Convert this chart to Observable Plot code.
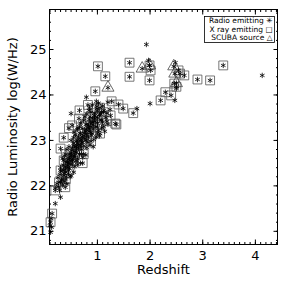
<!DOCTYPE html>
<html>
<head>
<meta charset="utf-8">
<script src="https://cdn.jsdelivr.net/npm/d3@7"></script>
<script src="https://cdn.jsdelivr.net/npm/@observablehq/plot@0.6"></script>
<style>
  html, body { margin: 0; padding: 0; background: white; }
</style>
</head>
<body>
<div id="chart"></div>
<script>
// Radio-emitting sources only (asterisk)
const radioOnly = [
  [1.93,25.11],[0.79,23.95],[2.00,23.81],[2.47,23.88],[1.75,23.70],[0.50,23.59],[0.85,23.72],[0.99,23.75],
  [1.97,24.76],[2.48,24.71],[2.50,24.14],[4.13,24.43],[0.63,23.27],
  [0.30,21.75],[0.20,21.61],[0.13,21.09],[0.11,20.98],[0.12,21.28],[0.10,21.12],
  [0.20,21.95],[0.23,22.05],[0.26,21.98],[0.30,22.08],[0.34,22.02],[0.38,22.10],[0.42,22.04],[0.28,21.90],
  [0.25,22.18],[0.29,22.25],[0.33,22.15],[0.37,22.28],[0.41,22.20],[0.45,22.27],[0.50,22.22],[0.55,22.30],[0.31,22.32],
  [0.30,22.40],[0.35,22.46],[0.39,22.36],[0.43,22.44],[0.47,22.38],[0.52,22.48],[0.57,22.42],[0.62,22.47],[0.68,22.50],[0.40,22.52],
  [0.34,22.60],[0.38,22.66],[0.44,22.58],[0.48,22.64],[0.53,22.56],[0.57,22.68],[0.62,22.60],[0.66,22.70],[0.72,22.63],[0.78,22.68],[0.50,22.72],
  [0.42,22.80],[0.46,22.86],[0.51,22.78],[0.56,22.88],[0.60,22.82],[0.65,22.90],[0.70,22.80],[0.74,22.88],[0.80,22.84],[0.86,22.90],[0.92,22.86],[0.55,22.94],
  [0.50,23.00],[0.55,23.06],[0.60,22.98],[0.64,23.08],[0.69,23.02],[0.74,23.10],[0.78,23.00],[0.83,23.06],[0.88,23.12],[0.93,23.02],[0.98,23.08],[1.04,23.10],
  [0.56,23.18],[0.62,23.24],[0.67,23.16],[0.72,23.26],[0.77,23.20],[0.82,23.28],[0.87,23.18],[0.92,23.25],[0.97,23.30],[1.02,23.22],[1.08,23.28],[1.14,23.20],
  [0.68,23.38],[0.74,23.44],[0.80,23.36],[0.85,23.46],[0.90,23.40],[0.95,23.48],[1.00,23.38],[1.05,23.45],[1.10,23.40],[1.16,23.50],[1.20,23.36],
  [0.80,23.58],[0.88,23.62],[0.94,23.55],[1.00,23.65],[1.06,23.58],[1.12,23.66],[1.18,23.60],[1.24,23.68],
  [0.90,23.78],[1.02,23.82],[1.10,23.76],[1.20,23.84],
  [0.32,22.12],[0.36,22.22],[0.40,22.30],[0.44,22.40],[0.48,22.48],[0.52,22.58],[0.56,22.66],[0.60,22.74],[0.64,22.82],[0.68,22.88],
  [0.72,22.96],[0.76,23.04],[0.80,23.14],[0.84,23.20],[0.88,23.30],[0.92,23.34],[0.96,23.42],[1.00,23.50],[1.04,23.56],[1.08,23.62],
  [0.35,22.35],[0.39,22.42],[0.43,22.52],[0.47,22.60],[0.51,22.68],[0.55,22.76],[0.59,22.86],[0.63,22.94],[0.67,23.00],[0.71,23.08],
  [0.75,23.16],[0.79,23.24],[0.83,23.32],[0.87,23.38],[0.91,23.48],[0.95,23.54],
  [0.46,22.70],[0.53,22.84],[0.58,23.12],[0.66,23.30],[0.76,23.52],[0.84,23.66],[0.98,23.86],[0.48,22.20],[0.60,22.55],[0.70,22.70],
  [0.82,22.96],[0.90,23.15],[1.00,23.16],[1.12,23.30]
];
// X-ray emitting sources (square, radio asterisk inside)
const xraySources = [
  [1.01,24.63],[1.15,24.41],[0.96,24.08],[1.61,24.71],[1.61,24.40],[1.99,24.65],[2.01,24.54],[1.99,24.32],
  [2.20,23.88],[2.29,24.06],[2.40,23.99],[2.54,24.54],[2.57,24.47],[2.65,24.43],[2.46,24.25],[2.50,24.18],
  [3.39,24.65],[2.90,24.34],[3.14,24.32],[1.27,23.86],[1.40,23.79],[1.49,23.70],[1.68,23.60],[0.66,23.66],
  [1.25,23.55],[1.36,23.35],[0.65,23.48],[0.46,23.27],[0.36,23.06],[0.52,23.33],[0.30,22.82],[0.36,22.56],
  [0.30,22.34],[0.61,22.89],[0.74,22.70],[0.45,22.34],[0.40,22.15],[0.27,22.08],[0.20,21.90],[0.39,21.97],
  [0.14,21.39],[0.11,21.20],[0.50,22.55],[0.58,22.75],[0.70,22.95],[0.80,23.10],[0.85,23.25],[0.92,23.40],
  [1.00,23.30],[1.08,23.45],[1.12,23.62],[0.95,23.60],[0.86,23.52],[0.78,23.35],[0.68,23.15],[0.62,23.00],
  [0.55,22.62],[0.45,22.50],[0.40,22.70],[0.72,22.50],[0.88,22.98],[1.05,23.15],[1.18,23.42],[0.82,23.78],
  [1.05,23.72],[0.99,23.70],[1.34,23.37]
];
// SCUBA sources (triangle, radio asterisk inside)
const scubaSources = [
  [1.20,24.16],[1.85,24.58],[1.99,24.65],[2.45,24.63],[2.47,24.47],[2.50,24.26]
];
const xMajor = [1, 2, 3, 4];
const yMajor = [21, 22, 23, 24, 25];
const xMinor = d3.range(0.1, 4.45, 0.1);
const yMinor = d3.range(20.8, 25.9, 0.2);
const legendLabels = ["Radio emitting \u2733", "X ray emitting \u25A1", "SCUBA source \u25B3"];
const xTitle = "Redshift";
const yTitle = "Radio Luminosity log(W/Hz)";

const allRadio = radioOnly.concat(xraySources, scubaSources);
const toObj = a => a.map(([z, L]) => ({z, L}));

const chart = Plot.plot({
  width: 286,
  height: 287,
  marginLeft: 49,
  marginRight: 9,
  marginTop: 9,
  marginBottom: 43,
  x: {domain: [0.09, 4.42], axis: null},
  y: {domain: [20.71, 25.88], axis: null},
  style: {fontFamily: "DejaVu Sans", fontSize: "13px", background: "white", color: "black"},
  marks: [
    Plot.frame({stroke: "black", strokeWidth: 1}),
    // inward ticks, all four sides
    Plot.axisX(xMajor, {anchor: "bottom", tickSize: -4.5, tickFormat: () => "", label: null}),
    Plot.axisX(xMinor, {anchor: "bottom", tickSize: -2, tickFormat: () => "", label: null}),
    Plot.axisX(xMajor, {anchor: "top", tickSize: -4.5, tickFormat: () => "", label: null}),
    Plot.axisX(xMinor, {anchor: "top", tickSize: -2, tickFormat: () => "", label: null}),
    Plot.axisY(yMajor, {anchor: "left", tickSize: -4.5, tickFormat: () => "", label: null}),
    Plot.axisY(yMinor, {anchor: "left", tickSize: -2, tickFormat: () => "", label: null}),
    Plot.axisY(yMajor, {anchor: "right", tickSize: -4.5, tickFormat: () => "", label: null}),
    Plot.axisY(yMinor, {anchor: "right", tickSize: -2, tickFormat: () => "", label: null}),
    // tick labels
    Plot.axisX(xMajor, {anchor: "bottom", tickSize: 0, tickPadding: 6, label: null, tickFormat: d => String(d)}),
    Plot.axisY(yMajor, {anchor: "left", tickSize: 0, tickPadding: 3, label: null, tickFormat: d => String(d)}),
    // titles
    Plot.text([xTitle], {frameAnchor: "bottom", text: d => d, dy: 29, fontSize: 13}),
    Plot.text([yTitle], {frameAnchor: "left", text: d => d, rotate: -90, textAnchor: "middle", lineAnchor: "middle", dx: -37, fontSize: 13}),
    // data
    Plot.dot(toObj(xraySources), {x: "z", y: "L", symbol: "square", r: 5, stroke: "#555", strokeWidth: 0.8, fill: "none"}),
    Plot.dot(toObj(scubaSources), {x: "z", y: "L", symbol: "triangle", r: 4.5, stroke: "#444", strokeWidth: 0.8, fill: "none"}),
    Plot.dot(toObj(allRadio), {x: "z", y: "L", symbol: "asterisk", r: 2.5, stroke: "black", strokeWidth: 0.8}),
    // legend
    Plot.frame({stroke: "black", strokeWidth: 0.8, insetLeft: 155, insetRight: 3, insetTop: 7, insetBottom: 202}),
    Plot.text([legendLabels.join("\n")], {frameAnchor: "top-right", text: d => d, textAnchor: "end", lineAnchor: "top", lineHeight: 1.1, fontSize: 7.5, dx: -5, dy: 8})
  ]
});
document.getElementById("chart").appendChild(chart);
</script>
</body>
</html>
